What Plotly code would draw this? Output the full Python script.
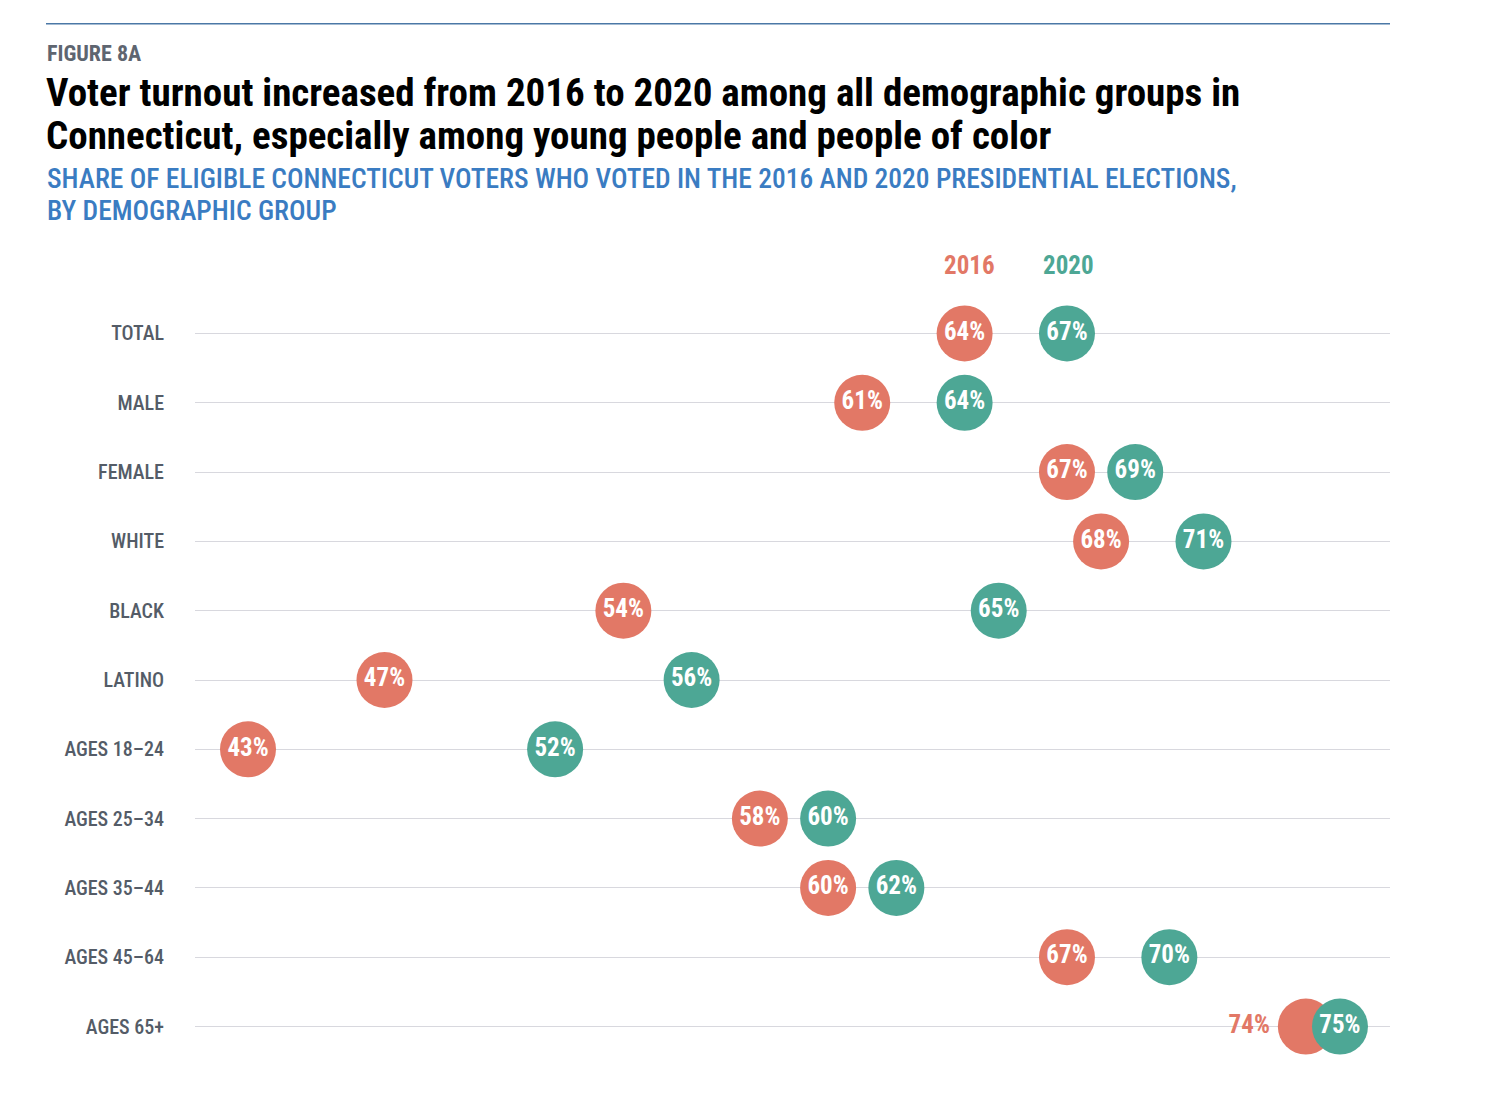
import plotly.graph_objects as go

categories = ["TOTAL", "MALE", "FEMALE", "WHITE", "BLACK", "LATINO",
              "AGES 18–24", "AGES 25–34", "AGES 35–44", "AGES 45–64", "AGES 65+"]
turnout_2016 = [64, 61, 67, 68, 54, 47, 43, 58, 60, 67, 74]
turnout_2020 = [67, 64, 69, 71, 65, 56, 52, 60, 62, 70, 75]
series_names = ["2016", "2020"]

RED = "#e27866"
TEAL = "#4da795"
W, H = 1486, 1104
OFF = 8                       # page body margin offset
L, R = 195 - OFF, 1390 - OFF  # plot area pixel bounds (x)
T, B = 277.5 - OFF, 1082.5 - OFF

def px(xp):
    return (xp - OFF - L) / (R - L)

def py(yp):
    return (B - (yp - OFF)) / (B - T)

FONT = "Roboto Condensed, Liberation Sans Narrow, Roboto, Arial"

ypos = list(range(len(categories)))

fig = go.Figure()

pos16, col16 = [], []
for a, b in zip(turnout_2016, turnout_2020):
    if abs(b - a) < 2:
        pos16.append("middle left")
        col16.append(RED)
    else:
        pos16.append("middle center")
        col16.append("white")

fig.add_trace(go.Scatter(
    x=turnout_2016, y=ypos, mode="markers+text", name=series_names[0],
    marker=dict(size=56, color=RED, line=dict(width=0)),
    text=[f"{v}%" for v in turnout_2016], textposition=pos16,
    textfont=dict(family=FONT, size=25, color=col16, weight="bold"),
    cliponaxis=False, hoverinfo="skip"))
fig.add_trace(go.Scatter(
    x=turnout_2020, y=ypos, mode="markers+text", name=series_names[1],
    marker=dict(size=56, color=TEAL, line=dict(width=0)),
    text=[f"{v}%" for v in turnout_2020], textposition="middle center",
    textfont=dict(family=FONT, size=25, color="white", weight="bold"),
    cliponaxis=False, hoverinfo="skip"))

fig.update_xaxes(range=[41.447, 76.466], showgrid=False, zeroline=False,
                 showticklabels=False, showline=False, fixedrange=True)
fig.update_yaxes(range=[10.8, -0.8], tickmode="array", tickvals=ypos,
                 ticktext=categories, showgrid=True, gridcolor="#d8d8de",
                 gridwidth=1, zeroline=False, showline=False, ticks="",
                 ticklabelstandoff=30,
                 tickfont=dict(family=FONT, size=20, color="#545c67", weight=500))

annotations = [
    dict(text="<b>FIGURE 8A</b>", x=px(45), y=py(53), xanchor="left", yanchor="middle",
         font=dict(family=FONT, size=22, color="#5e6570")),
    dict(text="<b>Voter turnout increased from 2016 to 2020 among all demographic groups in</b>",
         x=px(44), y=py(92), xanchor="left", yanchor="middle",
         font=dict(family=FONT, size=39, color="#000000")),
    dict(text="<b>Connecticut, especially among young people and people of color</b>",
         x=px(44), y=py(135), xanchor="left", yanchor="middle",
         font=dict(family=FONT, size=39, color="#000000")),
    dict(text="SHARE OF ELIGIBLE CONNECTICUT VOTERS WHO VOTED IN THE 2016 AND 2020 PRESIDENTIAL ELECTIONS,",
         x=px(45), y=py(178), xanchor="left", yanchor="middle",
         font=dict(family=FONT, size=27.5, color="#3a7cc2", weight=500)),
    dict(text="BY DEMOGRAPHIC GROUP",
         x=px(45), y=py(210), xanchor="left", yanchor="middle",
         font=dict(family=FONT, size=27.5, color="#3a7cc2", weight=500)),
    dict(text=f"<b>{series_names[0]}</b>", x=turnout_2016[0], y=py(265), xref="x",
         xshift=5, yanchor="middle", font=dict(family=FONT, size=25, color=RED)),
    dict(text=f"<b>{series_names[1]}</b>", x=turnout_2020[0], y=py(265), xref="x",
         xshift=2, yanchor="middle", font=dict(family=FONT, size=25, color=TEAL)),
]
for a in annotations:
    a.setdefault("xref", "paper")
    a.setdefault("yref", "paper")
    a["showarrow"] = False

fig.update_layout(
    width=W, height=H, showlegend=False,
    margin=dict(l=L, r=W - R, t=T, b=H - B, pad=0),
    plot_bgcolor="white", paper_bgcolor="white",
    annotations=annotations,
    shapes=[dict(type="line", xref="paper", yref="paper", x0=px(46), x1=px(1390),
                 y0=py(23), y1=py(23), line=dict(color="#4b78a6", width=1.5))],
)

fig.write_html("out.html")
